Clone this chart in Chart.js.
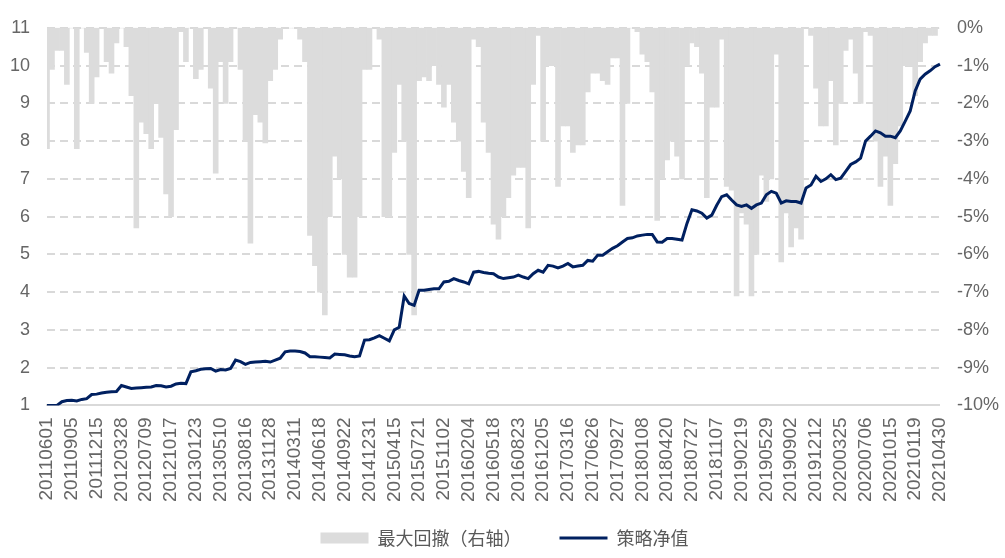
<!DOCTYPE html>
<html>
<head>
  <meta charset="utf-8">
  <title>策略净值与最大回撤</title>
  <script src="https://cdn.jsdelivr.net/npm/chart.js@4.4.0/dist/chart.umd.min.js"></script>
  <style>
    html, body {
      margin: 0;
      padding: 0;
      background: #ffffff;
    }
    #wrap {
      width: 1005px;
      height: 558px;
    }
  </style>
</head>
<body>
  <div id="wrap"><canvas id="nav"></canvas></div>
  <script>
    // x axis dates shown every 5th point
    const tickDates = ['20110601','20110905','20111215','20120328','20120709','20121017','20130123','20130510',
      '20130816','20131128','20140311','20140618','20140922','20141231','20150415','20150721','20151102',
      '20160204','20160518','20160823','20161205','20170316','20170626','20170927','20180108','20180420',
      '20180727','20181107','20190219','20190529','20190902','20191212','20200325','20200706','20201015',
      '20210119','20210430'];
    const pointsPerTick = 5;

    // 策略净值 (left axis)
    const navValues = [
      1.00,1.00,1.00,1.10,1.13,1.14,1.12,1.16,1.18,1.29,1.30,1.33,1.35,1.36,1.37,1.53,1.49,1.45,1.46,
      1.47,1.48,
      1.49,1.53,1.52,1.49,1.51,1.57,1.59,1.58,1.89,1.92,1.96,1.97,1.98,1.91,1.95,1.94,1.98,2.20,2.16,2.09,
      2.14,2.15,2.16,2.17,2.15,2.20,2.25,2.42,2.44,2.44,2.43,2.39,2.29,2.29,
      2.28,
      2.27,2.26,2.36,2.35,2.34,2.31,2.29,2.31,2.73,2.74,2.79,2.85,2.78,2.71,3.00,3.07,3.90,3.70,3.65,4.05,
      4.05,4.07,4.09,4.09,4.27,4.29,4.36,4.31,4.27,4.22,4.53,4.55,4.52,4.50,4.49,4.40,4.36,
      4.38,
      4.40,4.45,4.40,4.36,4.49,4.58,4.53,4.71,4.69,4.64,4.69,4.76,4.67,4.69,4.71,4.84,4.82,4.98,4.98,5.07,
      5.16,5.23,5.33,5.42,5.44,5.49,5.51,5.53,5.53,5.33,5.32,5.42,5.42,
      5.40,
      5.38,5.82,6.18,6.15,6.09,5.96,6.04,6.30,6.53,6.58,6.44,6.31,6.27,6.31,6.22,6.31,6.36,6.58,6.67,6.62,
      6.36,6.42,6.40,6.40,6.36,6.76,6.84,7.07,6.93,7.00,7.11,6.98,7.02,7.20,7.38,
      7.45,
      7.55,8.00,8.13,8.27,8.22,8.13,8.13,8.09,8.27,8.53,8.80,9.33,9.64,9.77,9.86,9.97,10.04
    ];

    // 最大回撤 in % (right axis)
    const drawdownValues = [
      -3.2,-1.1,-0.6,-0.6,-1.5,0,-3.2,0,-0.65,-2.0,-1.3,0,-0.9,-1.2,-0.4,0,-0.5,-1.8,-5.3,
      -2.5,-2.8,
      -3.2,-2.0,-2.9,-4.4,-5.0,-2.7,-0.1,-0.9,0,-1.35,-1.1,0,-1.6,-3.85,-0.9,-2.0,-0.9,0,-1.1,-3.0,
      -5.7,-2.3,-2.5,-3.05,-1.4,-1.1,-0.3,0,0,0,-0.3,-0.9,-5.5,-6.3,
      -7.0,
      -7.6,-5.0,-3.4,-4.0,-6.0,-6.6,-6.6,-5.0,-1.1,-1.1,0,-0.3,-5.0,-5.0,-3.3,-1.5,-3.0,-6.0,-7.6,-1.4,
      -1.3,-1.4,-1.0,-1.5,-2.1,-1.5,-2.5,-3.0,-3.8,-4.5,-0.3,-0.5,-2.5,-3.3,-5.2,-5.6,-5.0,
      -4.5,
      -3.9,-3.7,-3.7,-5.3,-1.5,-0.2,-3.0,-1.0,-1.0,-4.2,-2.6,-2.6,-3.3,-3.1,-3.1,-1.7,-1.2,-1.2,-1.4,-1.5,
      -0.8,-0.8,-4.7,-2.0,0,-0.1,-0.7,-0.9,-1.7,-5.1,-4.0,-3.5,-3.0,
      -3.4,
      -4.0,-1.0,-0.4,-0.5,-1.2,-4.5,-2.1,-2.1,-0.3,-4.2,-4.3,-7.1,-4.9,-5.2,-7.1,-6.0,-3.9,-4.6,-4.0,-0.7,
      -6.2,-4.9,-5.8,-5.3,-5.6,0,-0.2,-1.6,-2.6,-2.6,-1.4,-3.1,-2.0,-0.6,-0.3,
      -1.2,
      -2.0,-0.1,-0.2,-3.0,-4.2,-3.4,-4.7,-3.6,-2.6,-1.0,-1.0,-1.8,-0.9,-0.4,-0.2,-0.2,0
    ];

    const labels = navValues.map((v, i) => i % pointsPerTick === 0 ? tickDates[i / pointsPerTick] : '');

    const tickFont = { family: 'Liberation Sans', size: 18 };
    const tickColor = '#666666';
    const gridColor = '#d9d9d9';
    const yPad = 17;

    // chart.js reserves the tick padding twice; drop the outer copy
    function trimY(scale){
      scale.width = scale.width - yPad;
    }

    const ctx = document.getElementById('nav').getContext('2d');
    const chart = new Chart(ctx, {
      data: {
        labels: labels,
        datasets: [
          {
            type: 'bar',
            label: '最大回撤（右轴）',
            data: drawdownValues,
            yAxisID: 'yRight',
            backgroundColor: '#dcdcdc',
            borderWidth: 0,
            barPercentage: 1.0,
            categoryPercentage: 1.0,
            order: 2
          },
          {
            type: 'line',
            label: '策略净值',
            data: navValues,
            yAxisID: 'yLeft',
            borderColor: '#002060',
            backgroundColor: '#002060',
            borderWidth: 3,
            pointRadius: 0,
            tension: 0,
            fill: false,
            order: 1
          }
        ]
      },
      options: {
        responsive: true,
        maintainAspectRatio: false,
        animation: false,
        layout: { padding: { left: 10, right: 6, top: 26, bottom: 1 } },
        plugins: {
          tooltip: { enabled: false },
          legend: {
            position: 'bottom',
            labels: {
              usePointStyle: true,
              pointStyleWidth: 48,
              boxHeight: 11,
              padding: 38,
              color: '#595959',
              font: { family: 'Noto Sans CJK SC', size: 18 },
              sort: (a, b) => a.datasetIndex - b.datasetIndex,
              generateLabels: function(chart){
                const items = Chart.defaults.plugins.legend.labels.generateLabels(chart);
                items.forEach(item => {
                  if(item.datasetIndex === 0){
                    item.pointStyle = 'rect';
                    item.fillStyle = '#dcdcdc';
                    item.lineWidth = 0;
                  } else {
                    item.pointStyle = 'line';
                    item.strokeStyle = '#002060';
                    item.lineWidth = 3;
                  }
                });
                return items;
              }
            }
          }
        },
        scales: {
          x: {
            type: 'category',
            offset: false,
            grid: { display: false, drawTicks: false },
            border: { display: true, color: gridColor, width: 2 },
            ticks: {
              autoSkip: false,
              minRotation: 90,
              maxRotation: 90,
              padding: 12,
              color: tickColor,
              font: { family: 'Liberation Sans', size: 19 },
              callback: function(value){
                const lab = this.getLabelForValue(value);
                return lab === '' ? null : lab;
              }
            },
            // rotated labels run down into the empty band above the legend
            afterFit: function(scale){
              scale.paddingLeft = 0;
              scale.paddingRight = 0;
              scale.height = scale.height - 23;
              scale._computeLabelArea = function(){ return undefined; };
            }
          },
          yLeft: {
            position: 'left',
            min: 1,
            max: 11,
            grid: { color: gridColor, lineWidth: 2, drawTicks: false },
            border: { display: false, dash: [8, 5] },
            ticks: { stepSize: 1, padding: yPad, color: tickColor, font: tickFont },
            afterFit: trimY
          },
          yRight: {
            position: 'right',
            min: -10,
            max: 0,
            grid: { display: false, drawTicks: false },
            border: { display: false },
            ticks: {
              stepSize: 1,
              padding: yPad,
              color: tickColor,
              font: tickFont,
              callback: v => v + '%'
            },
            afterFit: trimY
          }
        }
      }
    });
  </script>
</body>
</html>
